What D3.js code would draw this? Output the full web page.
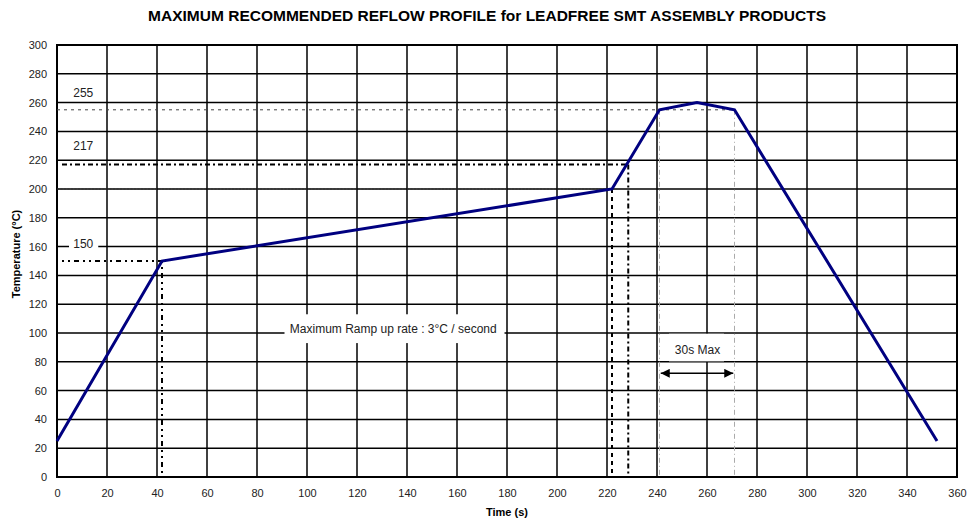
<!DOCTYPE html>
<html>
<head>
<meta charset="utf-8">
<script src="https://cdn.jsdelivr.net/npm/d3@7"></script>
<style>
  body { margin: 0; background: #fff; }
  svg { font-family: "Liberation Sans", Arial, sans-serif; }
</style>
</head>
<body>
<figure id="chart" style="margin:0"></figure>
<script>
// reflow profile (time s, temperature °C)
const profileTime = [0, 42, 222, 241, 256, 271, 352];
const profileTemp = [25, 150, 200, 255, 260, 255, 25];

const xTicks = d3.range(0, 361, 20);
const yTicks = d3.range(0, 301, 20);

// guide lines: [x1, y1, x2, y2, style]
const guideLines = [
  [2, 150, 42, 150, "a"],
  [42, 150, 42, 0, "a"],
  [2, 217, 228.5, 217, "b"],
  [228.5, 217, 228.5, 0, "b"],
  [0, 200, 222, 200, "c"],
  [222, 200, 222, 0, "d"],
  [0, 255, 271, 255, "e"],
  [241, 255, 241, 0, "f"],
  [271, 255, 271, 0, "f"]
];

const levelLabels = ["255", "217", "150"];
const levelLabelY = [266.5, 230, 162];

const width = 970, height = 520;
const margin = {left: 57, right: 12, top: 45, bottom: 43};

const svg = d3.select("#chart").append("svg")
  .attr("width", width).attr("height", height);

const x = d3.scaleLinear().domain([0, 360]).range([margin.left, width - margin.right - 1]);
const y = d3.scaleLinear().domain([0, 300]).range([height - margin.bottom, margin.top]);

// title
svg.append("text")
  .attr("x", 487).attr("y", 21)
  .attr("text-anchor", "middle")
  .attr("font-weight", "bold")
  .attr("font-size", 14)
  .attr("textLength", 678)
  .attr("lengthAdjust", "spacingAndGlyphs")
  .text("MAXIMUM RECOMMENDED REFLOW PROFILE for LEADFREE SMT ASSEMBLY PRODUCTS");

// grid
const grid = svg.append("g").attr("stroke", "#000").attr("stroke-width", 1.5);
grid.selectAll(".gx").data(xTicks).enter().append("line")
  .attr("x1", d => x(d)).attr("x2", d => x(d))
  .attr("y1", y(0)).attr("y2", y(300));
grid.selectAll(".gy").data(yTicks).enter().append("line")
  .attr("y1", d => y(d)).attr("y2", d => y(d))
  .attr("x1", x(0)).attr("x2", x(360));

// axes labels
const xAxis = svg.append("g")
  .attr("transform", "translate(0," + y(0) + ")")
  .call(d3.axisBottom(x).tickValues(xTicks).tickSize(0).tickPadding(12));
const yAxis = svg.append("g")
  .attr("transform", "translate(" + x(0) + ",0)")
  .call(d3.axisLeft(y).tickValues(yTicks).tickSize(0).tickPadding(10));
[xAxis, yAxis].forEach(a => {
  a.select(".domain").remove();
  a.selectAll("text").attr("font-size", 11).attr("fill", "#222")
    .attr("font-family", "Liberation Sans, Arial, sans-serif");
});

svg.append("rect")
  .attr("x", x(0)).attr("y", y(300))
  .attr("width", x(360) - x(0)).attr("height", y(0) - y(300))
  .attr("fill", "none").attr("stroke", "#000").attr("stroke-width", 2);

svg.append("text")
  .attr("x", 507).attr("y", 516)
  .attr("text-anchor", "middle")
  .attr("font-weight", "bold").attr("font-size", 11)
  .text("Time (s)");

svg.append("text")
  .attr("transform", "translate(20,254) rotate(-90)")
  .attr("text-anchor", "middle")
  .attr("font-weight", "bold").attr("font-size", 11)
  .text("Temperature (°C)");

// guide line styles
const styles = {
  a: {stroke: "#000", w: 2, dash: "2,4,2,4,5,4"},
  b: {stroke: "#000", w: 2, dash: "5,3,2,3"},
  c: {stroke: "#333", w: 1.2, dash: "2,1.5"},
  d: {stroke: "#000", w: 2, dash: "4,4"},
  e: {stroke: "#444", w: 1, dash: "3,4"},
  f: {stroke: "#aaa", w: 1, dash: "5,3,1,3"}
};
svg.append("g").selectAll("line").data(guideLines).enter().append("line")
  .attr("x1", d => x(d[0])).attr("y1", d => y(d[1]))
  .attr("x2", d => x(d[2])).attr("y2", d => y(d[3]))
  .attr("stroke", d => styles[d[4]].stroke)
  .attr("stroke-width", d => styles[d[4]].w)
  .attr("stroke-dasharray", d => styles[d[4]].dash);

// level labels with white backing
const lab = svg.append("g").selectAll("g").data(levelLabels).enter().append("g");
lab.append("rect")
  .attr("x", x(4.8)).attr("width", x(16.5) - x(4.8))
  .attr("y", (d, i) => y(levelLabelY[i]) - 8).attr("height", 15)
  .attr("fill", "#fff");
lab.append("text")
  .attr("x", x(10.5)).attr("y", (d, i) => y(levelLabelY[i]) + 4)
  .attr("text-anchor", "middle").attr("font-size", 12).attr("fill", "#222")
  .text(d => d);

// ramp note
svg.append("rect")
  .attr("x", x(91)).attr("y", y(113))
  .attr("width", x(179) - x(91)).attr("height", y(93) - y(113))
  .attr("fill", "#fff");
svg.append("text")
  .attr("x", x(134.5)).attr("y", y(103) + 4)
  .attr("text-anchor", "middle").attr("font-size", 12).attr("fill", "#222")
  .text("Maximum Ramp up rate : 3°C / second");

// 30s max
svg.append("rect")
  .attr("x", x(244.8)).attr("y", y(99.5))
  .attr("width", x(266.8) - x(244.8)).attr("height", y(80.3) - y(99.5))
  .attr("fill", "#fff");
svg.append("text")
  .attr("x", x(256.2)).attr("y", y(88.5) + 4)
  .attr("text-anchor", "middle").attr("font-size", 12).attr("fill", "#222")
  .text("30s Max");

const defs = svg.append("defs");
defs.append("marker").attr("id", "ah")
  .attr("viewBox", "0 0 10 10").attr("refX", 10).attr("refY", 5)
  .attr("markerWidth", 10).attr("markerHeight", 9)
  .attr("markerUnits", "userSpaceOnUse")
  .attr("orient", "auto-start-reverse")
  .append("path").attr("d", "M0,0L10,5L0,10Z").attr("fill", "#000");
svg.append("line")
  .attr("x1", x(241.5)).attr("x2", x(270.5))
  .attr("y1", y(72)).attr("y2", y(72))
  .attr("stroke", "#000").attr("stroke-width", 1.5)
  .attr("marker-start", "url(#ah)").attr("marker-end", "url(#ah)");

// profile line
const pts = profileTime.map((t, i) => [t, profileTemp[i]]);
svg.append("path")
  .datum(pts)
  .attr("fill", "none")
  .attr("stroke", "#000080")
  .attr("stroke-width", 3)
  .attr("stroke-linejoin", "miter")
  .attr("d", d3.line().x(d => x(d[0])).y(d => y(d[1])));
</script>
</body>
</html>
